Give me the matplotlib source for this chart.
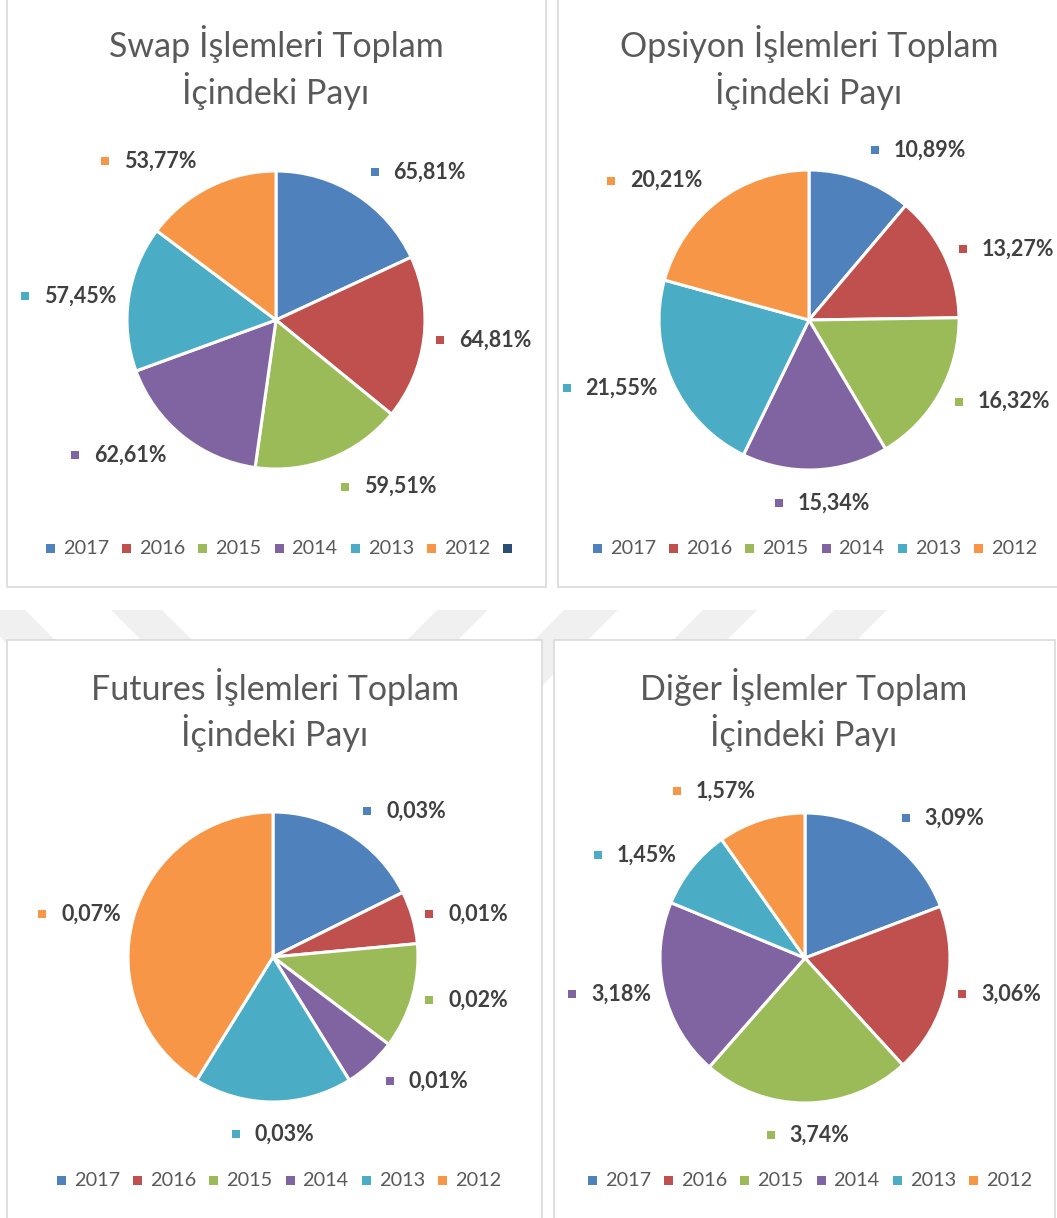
import numpy as np
import matplotlib.pyplot as plt
from matplotlib.patches import Rectangle, Polygon

W, H = 1057, 1218

years = ['2017', '2016', '2015', '2014', '2013', '2012']
swap = [65.81, 64.81, 59.51, 62.61, 57.45, 53.77]
opsiyon = [10.89, 13.27, 16.32, 15.34, 21.55, 20.21]
futures = [0.03, 0.01, 0.02, 0.01, 0.03, 0.07]
diger = [3.09, 3.06, 3.74, 3.18, 1.45, 1.57]

titles = [('Swap İşlemleri Toplam', 'İçindeki Payı'),
          ('Opsiyon İşlemleri Toplam', 'İçindeki Payı'),
          ('Futures İşlemleri Toplam', 'İçindeki Payı'),
          ('Diğer İşlemler Toplam', 'İçindeki Payı')]

colors = ['#4F81BD', '#C0504D', '#9BBB59', '#8064A2', '#4BACC6', '#F79646']
extra_color = '#2C4D75'   # empty 7th legend entry of the swap chart

plt.rcParams['font.family'] = ['Lato', 'DejaVu Sans']

fig = plt.figure(figsize=(W / 100, H / 100), dpi=100)
ax = fig.add_axes([0, 0, 1, 1])
ax.set_xlim(0, W)
ax.set_ylim(0, H)
renderer = fig.canvas.get_renderer()


def fy(y):
    # pixel row (top down) -> data y (bottom up)
    return H - y


# faint watermark strokes behind the panels
strokes = [(-27, 25, 1), (111, 162, 1), (437, 488, -1), (564, 618, -1), (703, 757, -1), (834, 887, -1)]
for x0, x1, d in strokes:
    depth = 90
    pts = [(x0, fy(610)), (x1, fy(610)), (x1 + d * depth, fy(610 + depth)), (x0 + d * depth, fy(610 + depth))]
    ax.add_patch(Polygon(pts, closed=True, facecolor='#f0f0f0', edgecolor='none', zorder=0))

SQ, GAP = 8, 15            # data label square and gap
LSQ, LGAP, LSP = 9, 8, 13  # legend square, gap, item spacing


def put_label(cx, cy, r, theta, txt, color):
    a = np.radians(theta)
    c, s = np.cos(a), np.sin(a)
    R = r * (1.22 - 0.14 * c ** 2)
    t = ax.text(0, 0, txt, fontsize=15.5, fontweight='bold', color='#404040',
                va='center', ha='left', zorder=5)
    tw = t.get_window_extent(renderer).width
    total = SQ + GAP + tw
    f = np.clip(3 * c, -1, 1)
    left = cx + R * c - total / 2 + f * total / 2
    y = fy(cy) + R * s
    ax.add_patch(Rectangle((left, y - SQ / 2), SQ, SQ, facecolor=color, edgecolor='none', zorder=5))
    t.set_position((left + SQ + GAP, y))


def put_legend(cx, y, labels, cols):
    items = []
    for lab, col in zip(labels, cols):
        t = ax.text(0, fy(y), lab, fontsize=14.3, color='#595959', va='center', ha='left', zorder=5)
        tw = t.get_window_extent(renderer).width if lab else 0
        items.append((t, col, tw))
    widths = [LSQ + (LGAP + tw if tw else 0) for _, _, tw in items]
    total = sum(widths) + LSP * (len(items) - 1)
    x = cx - total / 2
    for (t, col, tw), w in zip(items, widths):
        ax.add_patch(Rectangle((x, fy(y) - LSQ / 2), LSQ, LSQ, facecolor=col, edgecolor='none', zorder=5))
        t.set_x(x + LSQ + LGAP)
        x += w + LSP


panels = [
    dict(vals=swap, box=(7, -3, 546, 587), tx=276, ty=(44, 91), c=(276, 320), r=149, lx=279, ly=548, extra=True),
    dict(vals=opsiyon, box=(558, -3, 1065, 587), tx=809, ty=(44, 91), c=(809, 320), r=150, lx=815, ly=548, extra=False),
    dict(vals=futures, box=(7, 640, 542, 1225), tx=275, ty=(687, 733), c=(273, 957), r=145, lx=279, ly=1180, extra=False),
    dict(vals=diger, box=(554, 640, 1055, 1225), tx=804, ty=(687, 733), c=(805, 958), r=145, lx=810, ly=1180, extra=False),
]

for p, title in zip(panels, titles):
    x0, y0, x1, y1 = p['box']
    ax.add_patch(Rectangle((x0, fy(y1)), x1 - x0, y1 - y0, facecolor='white',
                           edgecolor='#d9d9d9', linewidth=1.2, zorder=1))
    for line, yy in zip(title, p['ty']):
        ax.text(p['tx'], fy(yy), line, fontsize=24.5, color='#595959', ha='center', va='center', zorder=5)

    cx, cy = p['c']
    wedges, _ = ax.pie(p['vals'], colors=colors, center=(cx, fy(cy)), radius=p['r'],
                       startangle=90, counterclock=False, frame=True,
                       wedgeprops=dict(edgecolor='white', linewidth=2.2, zorder=3))
    for w, v, col in zip(wedges, p['vals'], colors):
        mid = (w.theta1 + w.theta2) / 2
        put_label(cx, cy, p['r'], mid, '{:.2f}%'.format(v).replace('.', ','), col)

    labs, cols = list(years), list(colors)
    if p['extra']:
        labs.append('')
        cols.append(extra_color)
    put_legend(p['lx'], p['ly'], labs, cols)

ax.set_xlim(0, W)
ax.set_ylim(0, H)
ax.set_aspect('auto')
ax.axis('off')

fig.savefig('out.png', dpi=100)
